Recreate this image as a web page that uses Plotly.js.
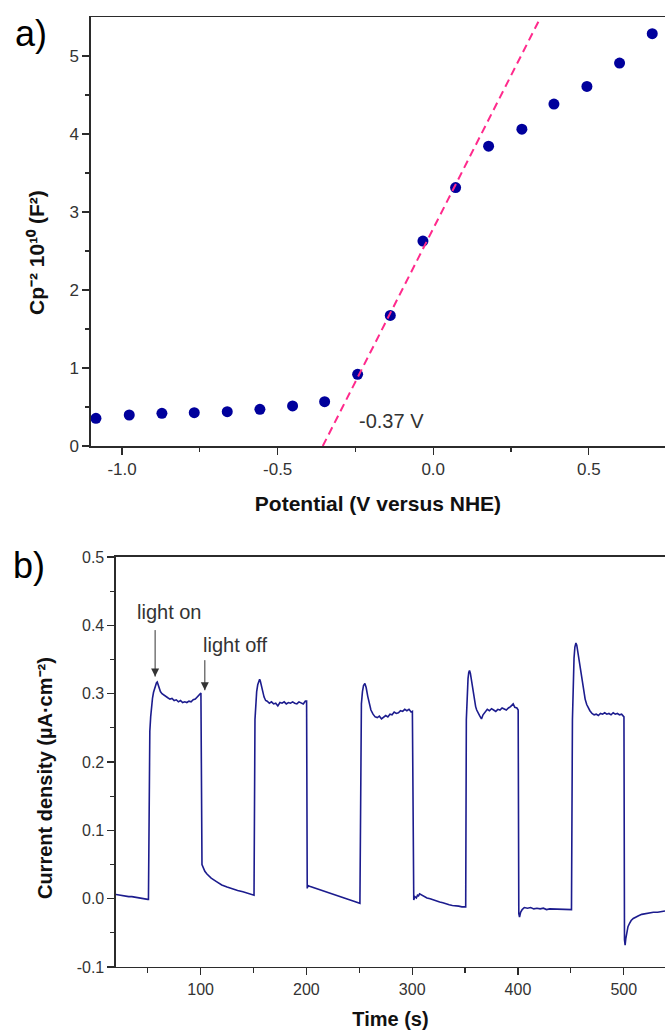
<!DOCTYPE html>
<html>
<head>
<meta charset="utf-8">
<script src="https://cdn.plot.ly/plotly-3.0.1.min.js"></script>
<style>
  html, body { margin: 0; padding: 0; background: #fff; overflow: hidden; }
  #chart { width: 665px; height: 1032px; }
</style>
</head>
<body>
<div id="chart"></div>
<script>
// ---------- panel a) Mott–Schottky ----------
const potential = [-1.084, -0.977, -0.872, -0.768, -0.662, -0.557, -0.452, -0.349, -0.243,
                   -0.138, -0.033, 0.072, 0.178, 0.285, 0.388, 0.494, 0.599, 0.704];
const cpInvSq = [0.355, 0.398, 0.420, 0.428, 0.441, 0.471, 0.514, 0.569, 0.920,
                 1.674, 2.628, 3.313, 3.844, 4.062, 4.384, 4.610, 4.910, 5.287];
const fitX = [-0.355, 0.338];
const fitY = [0, 5.44];
const potTickVals = [-1.0, -0.5, 0.0, 0.5];
const potTickText = ['-1.0', '-0.5', '0.0', '0.5'];
const cpTickVals = [0, 1, 2, 3, 4, 5];
const cpTickText = ['0', '1', '2', '3', '4', '5'];

// ---------- panel b) photocurrent ----------
const timeS = [
  // dark
  20, 23, 26, 29, 32, 35, 38, 41, 44, 47, 50, 50.7,
  // light on 1
  51.3, 52, 52.8, 53.5, 54.5, 55.5, 56.5, 57.5, 58.3, 59, 60, 61, 62, 63.5, 65, 67, 69, 71, 73, 75,
  77, 79, 81, 83, 85, 87, 89, 91, 93, 95, 97, 99, 100.3,
  // dark 2
  101.3, 102, 104, 106, 108, 110, 115, 120, 125, 130, 135, 140, 145, 150.5,
  // light 2
  151.4, 152, 153, 154, 155, 155.8, 156.5, 157.5, 158.5, 160, 161.5, 163, 165, 167, 169, 171, 173,
  175, 177, 179, 181, 183, 185, 187, 189, 191, 193, 195, 197, 199, 200.2,
  // dark 3
  200.8, 201.5, 203, 205, 207, 210, 213, 216, 219, 222, 225, 228, 231, 234, 237, 240, 243, 246, 249, 250.6,
  // light 3
  251.3, 252, 253, 254, 255.3, 256.5, 258, 259.5, 261, 263, 265, 267, 269, 271, 273, 275, 277, 279,
  281, 283, 285, 287, 289, 291, 293, 295, 297, 299, 300.2,
  // dark 4
  300.8, 301.5, 302.5, 304, 305, 306, 307, 309, 311, 314, 317, 320, 323, 326, 329, 332, 335, 338,
  341, 344, 347, 350.6,
  // light 4
  351.2, 352, 352.8, 353.5, 354.2, 355, 356, 357, 358, 359, 360, 361, 362, 363, 364, 365.5, 367, 369,
  371, 373, 375, 377, 379, 381, 383, 385, 387, 389, 391, 393, 395.5, 397, 399, 400.2,
  // dark 5
  400.8, 401.5, 402.5, 404, 406, 409, 412, 415, 418, 421, 424, 427, 430, 433, 436, 439, 442, 445, 448, 450.6,
  // light 5
  451.5, 452.2, 453, 453.8, 454.8, 455.6, 456.5, 457.5, 458.5, 459.5, 460.5, 461.5, 462.5, 463.5, 465,
  466.5, 468, 470, 472, 474, 476, 478, 480, 482, 484, 486, 488, 490, 492, 494, 496, 498, 499.5, 500.2,
  // dark 6
  500.7, 501.3, 502, 503, 504, 505.5, 507, 509, 511, 514, 517, 520, 524, 528, 532, 536, 539
];
const currentDensity = [
  0.006, 0.005, 0.005, 0.004, 0.003, 0.003, 0.002, 0.001, 0.001, 0.000, -0.001, -0.001,
  0.200, 0.245, 0.266, 0.280, 0.293, 0.302, 0.308, 0.313, 0.316, 0.317, 0.313, 0.308, 0.303, 0.300, 0.298, 0.296, 0.294, 0.292, 0.293, 0.290,
  0.291, 0.288, 0.290, 0.287, 0.288, 0.287, 0.289, 0.288, 0.291, 0.292, 0.295, 0.298, 0.301,
  0.050, 0.047, 0.040, 0.036, 0.033, 0.030, 0.025, 0.020, 0.017, 0.014, 0.012, 0.010, 0.008, 0.005,
  0.262, 0.285, 0.303, 0.313, 0.319, 0.321, 0.318, 0.310, 0.302, 0.295, 0.290, 0.289, 0.286, 0.288, 0.285, 0.286, 0.282,
  0.287, 0.286, 0.288, 0.285, 0.287, 0.286, 0.288, 0.286, 0.285, 0.288, 0.287, 0.285, 0.289, 0.289,
  0.015, 0.019, 0.018, 0.017, 0.016, 0.014, 0.013, 0.011, 0.010, 0.008, 0.007, 0.005, 0.004, 0.002, 0.001, -0.001, -0.003, -0.004, -0.006, -0.007,
  0.258, 0.285, 0.303, 0.312, 0.315, 0.309, 0.296, 0.284, 0.276, 0.270, 0.266, 0.265, 0.267, 0.263, 0.266, 0.268, 0.266, 0.270,
  0.269, 0.273, 0.271, 0.272, 0.275, 0.274, 0.277, 0.275, 0.277, 0.273, 0.274,
  0.000, -0.002, 0.003, 0.001, 0.005, 0.004, 0.007, 0.005, 0.004, 0.001, 0.000, -0.002, -0.004, -0.005, -0.006, -0.008, -0.009, -0.010,
  -0.010, -0.011, -0.012, -0.012,
  0.262, 0.300, 0.322, 0.331, 0.334, 0.330, 0.320, 0.308, 0.297, 0.288, 0.281, 0.276, 0.272, 0.270, 0.267, 0.263, 0.269, 0.273,
  0.277, 0.275, 0.278, 0.276, 0.274, 0.277, 0.276, 0.279, 0.278, 0.276, 0.279, 0.281, 0.285, 0.280, 0.279, 0.276,
  -0.022, -0.027, -0.020, -0.016, -0.013, -0.014, -0.013, -0.015, -0.014, -0.015, -0.014, -0.016, -0.015, -0.015, -0.016, -0.015, -0.016, -0.015, -0.016, -0.016,
  0.262, 0.318, 0.352, 0.368, 0.374, 0.371, 0.362, 0.350, 0.340, 0.333, 0.322, 0.310, 0.300, 0.292, 0.284,
  0.278, 0.275, 0.271, 0.269, 0.270, 0.268, 0.271, 0.270, 0.272, 0.270, 0.271, 0.269, 0.272, 0.270, 0.271, 0.269, 0.270, 0.268, 0.266,
  -0.060, -0.068, -0.058, -0.048, -0.041, -0.036, -0.032, -0.029, -0.027, -0.025, -0.023, -0.022, -0.021, -0.020, -0.020, -0.019, -0.018
];
// annotation arrows (tail -> tip)
const arrowOnT = [57, 57];
const arrowOnJ = [0.393, 0.325];
const arrowOffT = [104, 104];
const arrowOffJ = [0.349, 0.305];

const timeTickVals = [100, 200, 300, 400, 500];
const timeTickText = ['100', '200', '300', '400', '500'];
const timeMinorVals = [50, 150, 250, 350, 450];
const jTickVals = [-0.1, 0.0, 0.1, 0.2, 0.3, 0.4, 0.5];
const jTickText = ['-0.1', '0.0', '0.1', '0.2', '0.3', '0.4', '0.5'];
const jMinorVals = [-0.05, 0.05, 0.15, 0.25, 0.35, 0.45];

const FONT = 'Liberation Sans, Arial, Helvetica, sans-serif';
const AX = '#2b2b2b';

const arrowStyle = {
  type: 'scatter', mode: 'lines+markers', xaxis: 'x2', yaxis: 'y2',
  line: { color: '#333', width: 1 },
  marker: { symbol: 'arrow-down', size: 8, color: '#333', opacity: [0, 1] },
  hoverinfo: 'skip'
};

const traces = [
  {
    x: potential, y: cpInvSq, type: 'scatter', mode: 'markers',
    xaxis: 'x', yaxis: 'y',
    marker: { color: '#00009c', size: 11 }
  },
  {
    x: fitX, y: fitY, type: 'scatter', mode: 'lines',
    xaxis: 'x', yaxis: 'y',
    line: { color: '#ff2a8c', width: 2, dash: '8px,5px' }
  },
  {
    x: timeS, y: currentDensity, type: 'scatter', mode: 'lines',
    xaxis: 'x2', yaxis: 'y2',
    line: { color: '#1c1c8e', width: 1.6 }
  },
  Object.assign({}, arrowStyle, { x: arrowOnT, y: arrowOnJ }),
  Object.assign({}, arrowStyle, { x: arrowOffT, y: arrowOffJ })
];

const commonAxis = {
  showline: true, linecolor: AX, linewidth: 1.5,
  ticks: 'outside', tickcolor: AX, tickwidth: 1.3, ticklen: 7,
  showgrid: false, zeroline: false, fixedrange: true,
  tickmode: 'array'
};

const layout = {
  width: 665, height: 1032,
  margin: { l: 0, r: 0, t: 0, b: 0 },
  paper_bgcolor: '#ffffff', plot_bgcolor: '#ffffff',
  showlegend: false,
  font: { family: FONT, color: '#333' },
  xaxis: Object.assign({}, commonAxis, {
    domain: [0.1368, 1], range: [-1.1, 0.745], anchor: 'y', mirror: true,
    tickvals: potTickVals, ticktext: potTickText,
    minor: { tickmode: 'array', tickvals: [-0.75, -0.25, 0.25], ticklen: 4, tickwidth: 1.2, tickcolor: AX, ticks: 'outside' },
    tickfont: { size: 17, color: '#333' },
    title: { text: '<b>Potential (V versus NHE)</b>', font: { size: 21, color: '#111' }, standoff: 18 }
  }),
  yaxis: Object.assign({}, commonAxis, {
    domain: [0.5678, 0.9835], range: [0, 5.5], anchor: 'x',
    tickvals: cpTickVals, ticktext: cpTickText,
    minor: { tickmode: 'array', tickvals: [0.5, 1.5, 2.5, 3.5, 4.5], ticklen: 4, tickwidth: 1.2, tickcolor: AX, ticks: 'outside' },
    tickfont: { size: 17, color: '#333' }
  }),
  xaxis2: Object.assign({}, commonAxis, {
    domain: [0.1744, 1], range: [20, 539], anchor: 'y2', mirror: true,
    tickvals: timeTickVals, ticktext: timeTickText,
    minor: { tickmode: 'array', tickvals: timeMinorVals, ticklen: 5, tickwidth: 1.2, tickcolor: AX, ticks: 'outside' },
    tickfont: { size: 16, color: '#333' },
    title: { text: '<b>Time (s)</b>', font: { size: 20, color: '#111' }, standoff: 15 }
  }),
  yaxis2: Object.assign({}, commonAxis, {
    domain: [0.0630, 0.4603], range: [-0.1, 0.5], anchor: 'x2',
    tickvals: jTickVals, ticktext: jTickText,
    minor: { tickmode: 'array', tickvals: jMinorVals, ticklen: 4, tickwidth: 1.2, tickcolor: AX, ticks: 'outside' },
    tickfont: { size: 16, color: '#333' }
  }),
  annotations: [
    { text: '<b>Cp⁻² 10¹⁰ (F²)</b>', xref: 'paper', yref: 'paper',
      x: 0.0541, y: 0.7558, textangle: -90, showarrow: false,
      xanchor: 'center', yanchor: 'middle', font: { size: 21, color: '#111' } },
    { text: '<b>Current density (µA·cm⁻²)</b>', xref: 'paper', yref: 'paper',
      x: 0.0677, y: 0.2461, textangle: -90, showarrow: false,
      xanchor: 'center', yanchor: 'middle', font: { size: 20, color: '#111' } },
    { text: 'a)', xref: 'paper', yref: 'paper', x: 0.0466, y: 0.968, showarrow: false,
      xanchor: 'center', yanchor: 'middle', font: { size: 36, color: '#000' } },
    { text: 'b)', xref: 'paper', yref: 'paper', x: 0.0436, y: 0.4516, showarrow: false,
      xanchor: 'center', yanchor: 'middle', font: { size: 36, color: '#000' } },
    { text: '-0.37 V', xref: 'x', yref: 'y', x: -0.134, y: 0.32, showarrow: false,
      xanchor: 'center', yanchor: 'middle', font: { size: 20, color: '#333' } },
    { text: 'light on', xref: 'x2', yref: 'y2', x: 71, y: 0.4195, showarrow: false,
      xanchor: 'center', yanchor: 'middle', font: { size: 20, color: '#333' } },
    { text: 'light off', xref: 'x2', yref: 'y2', x: 133.4, y: 0.371, showarrow: false,
      xanchor: 'center', yanchor: 'middle', font: { size: 20, color: '#333' } }
  ]
};

Plotly.newPlot('chart', traces, layout, { staticPlot: true, displayModeBar: false });
</script>
</body>
</html>
